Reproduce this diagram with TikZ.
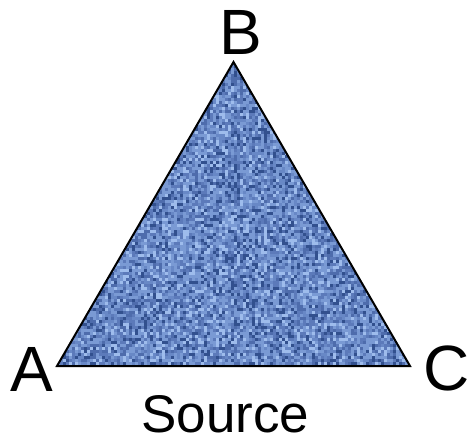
\documentclass[tikz,border=0pt]{standalone}
\usepackage{fontspec}
\setmainfont{Liberation Sans}
\definecolor{denA}{RGB}{50,80,142}
\definecolor{denB}{RGB}{78,108,172}
\definecolor{denC}{RGB}{104,136,198}
\definecolor{denD}{RGB}{122,154,212}
\definecolor{denE}{RGB}{158,188,236}
\definecolor{denF}{RGB}{92,122,186}
\tikzset{
  vlabel/.style={inner sep=0pt, anchor=base, font=\fontsize{64}{70}\selectfont},
  caption/.style={inner sep=0pt, anchor=base, font=\fontsize{53}{60}\selectfont},
  tri/.style={draw=black, line width=2pt, line join=miter}
}
\begin{document}
\begin{tikzpicture}[x=1pt,y=-1pt]
\useasboundingbox (0,0) rectangle (473,442);
\coordinate (A) at (57,366);
\coordinate (B) at (233.5,62);
\coordinate (C) at (410,366);
\pgfmathsetseed{4242}
\begin{scope}
  \clip (A) -- (B) -- (C) -- cycle;
  \fill[denC] (A) -- (B) -- (C) -- cycle;
  \foreach \r in {0,...,101}{
    \pgfmathsetmacro{\yy}{62+3*\r}
    \pgfmathtruncatemacro{\xa}{floor((233.5-(\yy+3-62)*0.5806-57)/3)}
    \pgfmathtruncatemacro{\xb}{ceil((233.5+(\yy+3-62)*0.5806-57)/3)}
    \foreach \c in {\xa,...,\xb}{
      \pgfmathrandominteger{\k}{1}{7}
      \ifcase\k\or
        \fill[denA] (57+3*\c,\yy) rectangle ++(3,3);\or
        \fill[denB] (57+3*\c,\yy) rectangle ++(3,3);\or
        \fill[denF] (57+3*\c,\yy) rectangle ++(3,3);\or
        \fill[denD] (57+3*\c,\yy) rectangle ++(3,3);\or
        \fill[denE] (57+3*\c,\yy) rectangle ++(3,3);\or
        \fill[denD] (57+3*\c,\yy) rectangle ++(3,3);\or
      \fi
    }
  }
\end{scope}
\draw[tri] (A) -- (B) -- (C) -- cycle;
\node[vlabel] (la) at (32,391) {A};
\node[vlabel] (lb) at (240.5,54) {B};
\node[vlabel] (lc) at (446.5,390) {C};
\node[caption] (src) at (225.5,432) {Source};
\end{tikzpicture}
\end{document}
